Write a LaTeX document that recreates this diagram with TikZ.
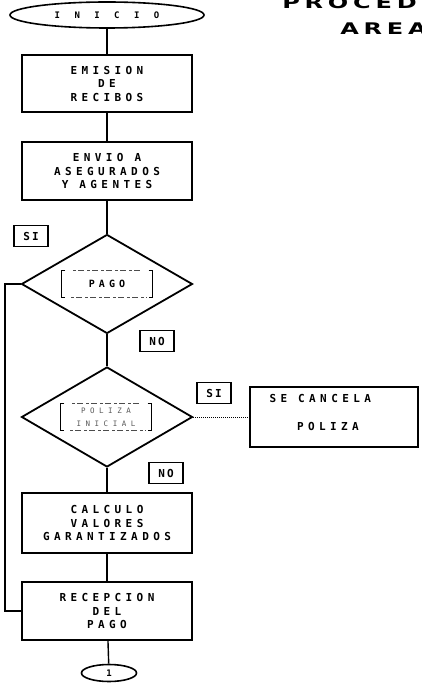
\documentclass[tikz,border=0pt]{standalone}
\usepackage{fontspec}
\usetikzlibrary{shapes.geometric}
% printer-like lettering: bold mono with loose spacing
\newfontfamily\dotfont[LetterSpace=40]{DejaVu Sans Mono}
\newfontfamily\titlefont[LetterSpace=20]{DejaVu Sans}

\tikzset{
  flow/.style={draw, line width=2pt, rectangle, minimum width=170pt, minimum height=58pt,
    inner sep=0pt, align=center, font=\dotfont\bfseries\fontsize{11}{13.5}\selectfont},
  decision/.style={draw, line width=1.8pt, diamond, minimum width=171pt, minimum height=99pt, inner sep=0pt},
  inner/.style={minimum width=91pt, minimum height=27pt, inner sep=0pt, align=center},
  bracket/.style={line width=1.2pt},
  faintline/.style={line width=0.7pt, dash pattern=on 3pt off 2pt on 6pt off 3pt, black!70},
  tag/.style={draw, line width=1.4pt, minimum width=34pt, minimum height=21pt, inner sep=1pt,
    font=\dotfont\bfseries\fontsize{11}{11}\selectfont\addfontfeature{LetterSpace=20}},
  terminal/.style={draw, ellipse, line width=1.6pt, inner sep=0pt},
  link/.style={line width=1.4pt},
  title/.style={font=\titlefont\bfseries\fontsize{16}{16}\selectfont, xscale=1.5, inner sep=0pt}
}

\begin{document}
\begin{tikzpicture}[x=1pt, y=-1pt]
\useasboundingbox (0,0) rectangle (421,692);
\clip (0,0) rectangle (421,692);

% heading, cut by the page edge
\node[title, anchor=base west] (head1) at (282,9) {PROCED};
\node[title, anchor=base west] (head2) at (340,35) {AREA};

% main column
\node[terminal, minimum width=194pt, minimum height=26pt,
      font=\dotfont\bfseries\fontsize{9}{9}\selectfont\addfontfeature{LetterSpace=160}] (inicio) at (107,15) {INICIO};
\node[flow, minimum height=57pt] (emision) at (107,83.5) {EMISION\\DE\\RECIBOS};
\node[flow] (envio) at (107,171) {ENVIO A\\ASEGURADOS\\Y AGENTES};

\node[decision] (pago) at (107,284) {};
\node[inner, font=\dotfont\bfseries\fontsize{10}{10}\selectfont] (pagoq) at (107,284) {PAGO};

\node[decision, minimum height=100pt] (poliza) at (107,417) {};
\node[inner, text=black!65, font=\dotfont\fontsize{7.5}{13}\selectfont\addfontfeature{LetterSpace=60}] (polizaq) at (106,417) {POLIZA\\INICIAL};

\node[flow, minimum height=60pt] (calculo) at (107,523) {CALCULO\\VALORES\\GARANTIZADOS};
\node[flow, minimum height=58pt] (recep) at (107,611) {RECEPCION\\DEL\\PAGO};
\node[terminal, minimum width=55pt, minimum height=17pt,
      font=\dotfont\bfseries\fontsize{9}{9}\selectfont] (fin) at (109,673) {1};

% cancellation branch
\node[flow, minimum width=168pt, minimum height=60pt] (cancela) at (334,417) {};
\node[font=\dotfont\bfseries\fontsize{11}{11}\selectfont, anchor=west] (cancela1) at (266,398) {SE CANCELA};
\node[font=\dotfont\bfseries\fontsize{11}{11}\selectfont] (cancela2) at (328,426) {POLIZA};

% answer tags
\node[tag] (si1) at (31,236) {SI};
\node[tag] (no1) at (157,341) {NO};
\node[tag] (si2) at (214,393) {SI};
\node[tag] (no2) at (166,473) {NO};

% brackets around the questions
\foreach \q in {pagoq, polizaq} {
  \draw[bracket] ([xshift=4pt]\q.north west) -- (\q.north west) -- (\q.south west) -- ++(4,0);
  \draw[bracket] ([xshift=-4pt]\q.north east) -- (\q.north east) -- (\q.south east) -- ++(-4,0);
  \draw[faintline] ([xshift=12pt]\q.north west) -- ([xshift=-12pt]\q.north east);
  \draw[faintline] ([xshift=10pt]\q.south west) -- ([xshift=-6pt]\q.south east);
}

% connectors
\draw[link] (inicio) -- (emision);
\draw[link] (emision) -- (envio);
\draw[link] (envio) -- (pago);
\draw[link] (pago) -- (poliza);
\draw[link] (poliza) -- (calculo);
\draw[link] (calculo) -- (recep);
\draw[link] (recep) -- (fin);
\coordinate (loop) at (5,284);
\draw[link] (pago.west) -- (loop) |- (recep.west);
\draw[line width=1pt, densely dotted] (poliza.east) -- (cancela.west);
\end{tikzpicture}
\end{document}
